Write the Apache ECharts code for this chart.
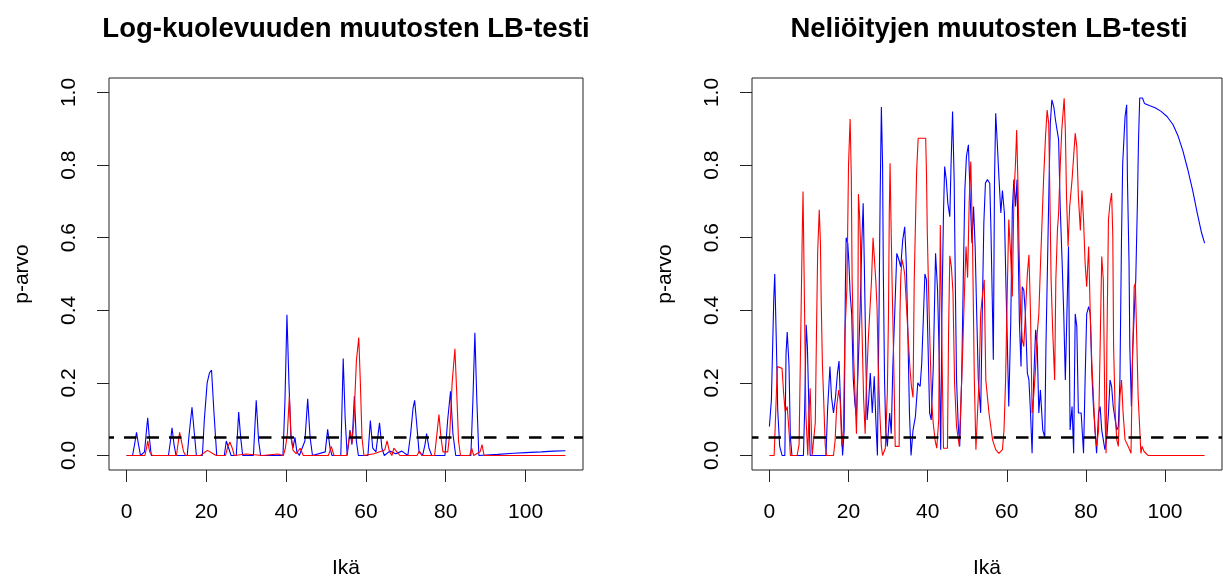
<!DOCTYPE html>
<html><head><meta charset="utf-8">
<script src="https://cdn.jsdelivr.net/npm/echarts@6/dist/echarts.min.js"></script>
<style>html,body{margin:0;padding:0;background:#fff}#c{width:1223px;height:580px}</style>
</head><body><div id="c"></div>
<script>
const xTicks = [0, 20, 40, 60, 80, 100];
const yTicks = [0, 0.2, 0.4, 0.6, 0.8, 1.0];
const titles = ['Log-kuolevuuden muutosten LB-testi', 'Neliöityjen muutosten LB-testi'];
const xName = 'Ikä';
const yName = 'p-arvo';
const threshold = 0.05;

// Left panel, blue
const leftBlueAge = [0,1.5,2.0,2.5,3.0,3.5,4.5,5.0,5.3,5.7,6.2,10.5,11.0,11.4,11.9,12.4,15.2,15.7,16.4,17.0,17.5,19.0,19.5,20.2,20.8,21.3,21.9,22.6,24.5,25.0,25.6,26.2,27.5,28.1,28.6,29.1,31.8,32.5,33.1,33.6,39.2,39.7,40.2,40.7,41.2,41.7,42.2,42.7,43.3,44.7,45.4,46.0,46.6,49.8,50.4,51.0,51.5,53.7,54.3,54.8,55.3,56.0,56.5,57.1,57.6,58.1,60.5,61.1,61.7,62.5,63.4,64.0,64.6,66.0,67.5,69.0,70.5,71.2,71.8,72.2,72.7,73.3,74.2,74.8,75.2,75.8,76.5,79.8,80.5,81.2,81.8,82.5,86.3,86.8,87.3,87.8,88.3,93,97,100,104,107,110];
const leftBlueP   = [0,0,0.03,0.064,0.03,0,0.01,0.07,0.104,0.05,0,0,0.04,0.076,0.03,0,0,0.06,0.133,0.06,0,0,0.1,0.2,0.228,0.235,0.12,0,0,0.04,0.02,0,0,0.12,0.05,0,0,0.152,0.04,0,0,0.15,0.388,0.2,0.05,0.02,0.05,0.01,0,0.04,0.156,0.05,0,0.01,0.072,0.02,0,0,0.267,0.1,0,0.07,0.03,0.163,0.04,0,0,0.096,0.02,0.01,0.09,0.02,0,0.012,0.005,0.012,0,0.06,0.13,0.152,0.09,0.01,0,0.03,0.06,0.02,0,0,0.1,0.177,0.06,0,0,0.15,0.338,0.15,0,0.003,0.006,0.008,0.01,0.012,0.013];

// Left panel, red
const leftRedAge = [0,4.6,5.0,5.3,5.8,6.5,12.5,13.0,13.3,13.8,14.3,14.8,18.5,19.5,20.3,21.5,22.5,24.8,25.4,25.9,26.5,27.0,30,34,38,39.3,39.8,40.3,40.8,41.2,41.7,42.5,43.5,44.3,50.6,51.3,52.0,55.2,55.7,56.1,56.5,57.0,57.6,58.2,58.6,59.0,59.5,62,64.7,65.3,65.9,66.5,67.0,67.4,67.9,68.5,72.8,73.4,74.0,77.2,77.7,78.3,78.8,79.3,80.5,81.0,81.6,82.3,82.8,83.2,83.7,86.0,86.5,87.0,88.6,89.1,89.6,110];
const leftRedP   = [0,0,0.02,0.04,0.01,0,0,0.04,0.064,0.064,0.01,0,0,0.008,0.014,0.006,0,0,0.025,0.037,0.02,0,0.004,0,0.004,0,0.02,0.06,0.163,0.06,0.015,0.005,0.02,0,0,0.025,0,0,0.04,0.065,0.035,0.1,0.26,0.325,0.2,0.05,0,0.005,0.015,0.04,0.01,0,0.02,0.025,0.008,0,0,0.012,0,0,0.05,0.113,0.05,0.01,0.01,0.06,0.2,0.294,0.16,0.04,0,0,0.02,0,0.01,0.03,0,0];

// Right panel, blue
const rightBlueAge = [0,0.5,1.1,1.35,1.8,2.1,2.6,3.2,3.9,4.2,4.5,4.95,5.3,5.7,8.6,8.9,9.3,9.6,10.0,10.3,14.3,14.7,15.3,15.7,16.2,16.7,17.2,17.6,18.0,18.5,18.9,19.2,19.4,19.8,20.1,20.4,20.8,21.2,21.6,22.0,22.4,22.9,23.4,23.7,24.0,24.4,24.7,25.1,25.5,26.0,26.5,26.9,27.3,27.7,28.0,28.3,28.6,28.8,29.1,29.4,29.8,30.4,30.8,31.2,31.7,32.2,32.7,33.2,33.7,34.2,34.6,35.0,35.4,35.8,36.3,36.9,37.5,38.1,38.5,38.9,39.3,39.7,40.1,40.5,40.9,41.4,42.0,42.5,42.9,43.3,43.6,44.0,44.3,44.7,45.1,45.6,45.9,46.3,46.7,47.0,47.3,47.7,48.1,48.6,49.0,49.4,49.8,50.3,50.8,51.2,51.6,52.0,52.4,52.8,53.4,53.8,54.2,54.6,55.1,55.7,56.0,56.4,56.6,56.9,57.2,57.6,58.0,58.5,58.9,59.4,59.8,60.1,60.5,61.0,61.4,61.8,62.2,62.6,62.9,63.2,63.6,63.9,64.3,64.7,65.2,65.6,66.0,66.4,66.8,67.3,67.7,68.1,68.5,69.1,69.6,69.9,70.3,70.7,71.0,71.4,71.9,72.3,72.7,73.1,73.5,74.0,74.4,74.8,75.2,75.6,76.0,76.5,76.9,77.3,77.7,78.1,78.8,79.4,79.8,80.2,80.7,81.1,81.5,81.9,82.3,82.7,83.2,83.6,84.0,84.8,85.3,85.7,86.1,86.5,86.9,87.4,87.8,88.2,88.6,89.0,89.3,89.6,89.9,90.3,90.5,90.9,91.1,91.5,91.8,92.2,92.6,93.0,93.3,93.6,94.3,94.8,96.0,97.5,99.0,100.5,102.0,103.3,104.5,105.7,107.0,108.2,109.2,110];
const rightBlueP   = [0.08,0.153,0.43,0.5,0.29,0.126,0.025,0,0,0.28,0.34,0.25,0.05,0,0,0.12,0.36,0.3,0.12,0,0,0.126,0.245,0.16,0.117,0.16,0.227,0.26,0.135,0,0.07,0.465,0.6,0.585,0.53,0.447,0.39,0.21,0.144,0.107,0.236,0.39,0.6,0.695,0.52,0.254,0.098,0.153,0.227,0.117,0.218,0.098,0,0.39,0.72,0.96,0.805,0.5,0.21,0.07,0.025,0.117,0.06,0.245,0.4,0.557,0.54,0.52,0.594,0.63,0.53,0.337,0.117,0,0.07,0.107,0.2,0.19,0.254,0.374,0.5,0.484,0.3,0.117,0.098,0.236,0.557,0.456,0.28,0.016,0.39,0.668,0.796,0.76,0.695,0.658,0.796,0.948,0.76,0.465,0.21,0.09,0.025,0.21,0.484,0.73,0.824,0.856,0.695,0.585,0.686,0.576,0.39,0.21,0.117,0.39,0.64,0.75,0.76,0.75,0.62,0.39,0.264,0.76,0.943,0.86,0.77,0.668,0.73,0.668,0.465,0.328,0.135,0.365,0.677,0.76,0.686,0.76,0.557,0.365,0.245,0.465,0.456,0.39,0.227,0.208,0.117,0.006,0.208,0.346,0.3,0.117,0.18,0.07,0.05,0.3,0.53,0.76,0.915,0.98,0.96,0.925,0.897,0.87,0.686,0.53,0.39,0.208,0.39,0.576,0.07,0.135,0.006,0.39,0.355,0.117,0.117,0.006,0.208,0.39,0.41,0.39,0.227,0.135,0.07,0.006,0.117,0.135,0.07,0.016,0.05,0.117,0.208,0.19,0.135,0.098,0.07,0.08,0.208,0.6,0.805,0.87,0.934,0.966,0.76,0.53,0.3,0.135,0.28,0.39,0.484,0.686,0.87,0.985,0.985,0.97,0.964,0.958,0.948,0.934,0.912,0.88,0.84,0.79,0.73,0.665,0.615,0.585];

// Right panel, red
const rightRedAge = [0,1.2,1.6,2.0,3.2,3.6,4.0,4.5,5.0,5.3,7.0,7.5,8.0,8.3,8.5,8.9,9.2,9.7,10.0,10.3,10.8,11.2,11.6,11.9,12.2,12.6,12.9,13.1,13.4,13.7,14.1,14.4,16.2,16.6,17.0,17.5,17.9,18.3,18.7,19.1,19.6,20.0,20.4,20.7,20.9,21.3,21.7,22.0,22.3,22.5,22.8,23.0,23.2,23.5,23.8,24.2,24.5,25.0,25.8,26.2,26.5,26.9,27.2,27.5,27.9,28.3,28.6,29.3,29.8,30.1,30.3,30.5,30.7,31.0,31.4,31.8,32.8,33.0,33.2,33.5,33.9,34.2,34.6,35.1,35.5,35.9,36.3,36.6,36.9,37.2,37.6,39.5,39.7,39.9,40.2,40.6,41.0,41.4,41.9,42.3,42.8,43.2,43.6,44.0,45.0,45.3,45.6,46.0,46.4,46.8,47.3,48.0,48.8,49.3,49.7,50.1,50.5,50.9,51.3,51.8,52.2,52.6,53.0,53.4,53.9,54.3,54.7,55.5,56.4,57.2,58.0,58.9,59.3,59.7,60.1,60.5,61.0,61.4,61.8,62.2,62.5,62.8,63.1,63.5,63.9,64.3,64.7,65.2,65.6,66.0,66.4,66.8,67.3,67.7,68.1,68.5,68.9,69.3,69.8,70.2,70.6,70.9,71.2,71.6,72.1,72.4,72.8,73.1,73.5,73.9,74.5,74.8,75.1,75.5,75.9,76.5,77.3,77.7,78.1,78.6,79.0,79.4,79.8,80.2,80.7,81.1,81.5,81.9,82.3,82.7,83.2,83.6,84.0,84.4,84.8,85.1,85.3,85.7,86.1,86.5,86.8,87.0,87.4,87.8,88.2,88.6,89.0,89.4,89.9,90.7,91.4,91.8,92.2,92.5,92.9,93.2,93.5,93.9,94.2,94.7,95.7,110];
const rightRedP   = [0,0,0.12,0.245,0.24,0.17,0.12,0.135,0.06,0,0,0.03,0.39,0.61,0.727,0.39,0.12,0,0.12,0.185,0,0,0.09,0.34,0.56,0.677,0.585,0.42,0.25,0.16,0.03,0,0,0.04,0.135,0.18,0.15,0.025,0.07,0.34,0.465,0.8,0.927,0.77,0.49,0.27,0.15,0.06,0.23,0.72,0.66,0.59,0.44,0.3,0.16,0.06,0.19,0.32,0.48,0.6,0.6,0.48,0.41,0.25,0.12,0.025,0,0.02,0.17,0.39,0.667,0.805,0.667,0.48,0.27,0.025,0.025,0.39,0.49,0.54,0.52,0.5,0.5,0.32,0.245,0.19,0.16,0.48,0.63,0.78,0.874,0.874,0.78,0.62,0.47,0.3,0.15,0.09,0.04,0.02,0.1,0.635,0.3,0.02,0.02,0.35,0.55,0.52,0.45,0.2,0.08,0.025,0.27,0.45,0.576,0.49,0.7,0.81,0.62,0.208,0.016,0.117,0.208,0.39,0.447,0.484,0.208,0.117,0.043,0.016,0.006,0.016,0.07,0.208,0.438,0.65,0.548,0.438,0.713,0.805,0.897,0.76,0.576,0.39,0.32,0.3,0.39,0.5,0.553,0.39,0.117,0.163,0.245,0.337,0.39,0.52,0.64,0.76,0.88,0.952,0.915,0.713,0.484,0.346,0.208,0.484,0.62,0.668,0.796,0.897,0.984,0.897,0.713,0.576,0.686,0.76,0.888,0.851,0.713,0.62,0.73,0.65,0.53,0.465,0.576,0.39,0.254,0.163,0.07,0.025,0.07,0.3,0.548,0.484,0.117,0.006,0.3,0.65,0.695,0.723,0.603,0.3,0.117,0.043,0.025,0.163,0.208,0.117,0.043,0.025,0.006,0.28,0.465,0.475,0.3,0.163,0.098,0.006,0.025,0.011,0,0];

const FONT = '"Liberation Sans", Arial, sans-serif';
const AX = '#222';
function pairs(a, b) { return a.map((x, i) => [x, b[i]]); }

function xAxisFor(i) {
  return {
    type: 'value', gridIndex: i, min: -4.4, max: 114.4, position: 'bottom',
    name: xName, nameLocation: 'middle', nameGap: 88,
    nameTextStyle: { fontSize: 21, color: '#000', fontFamily: FONT },
    axisLine: { show: false, onZero: false },
    axisTick: { show: true, inside: false, customValues: xTicks, length: 12, lineStyle: { color: AX, width: 1 } },
    axisLabel: { customValues: xTicks, margin: 32, fontSize: 21, color: '#000', fontFamily: FONT },
    splitLine: { show: false }
  };
}
function yAxisFor(i) {
  return {
    type: 'value', gridIndex: i, min: -0.04, max: 1.04, position: 'left',
    name: yName, nameLocation: 'middle', nameRotate: 90, nameGap: 76,
    nameTextStyle: { fontSize: 21, color: '#000', fontFamily: FONT },
    axisLine: { show: false, onZero: false },
    axisTick: { show: true, inside: false, customValues: yTicks, length: 12, lineStyle: { color: AX, width: 1 } },
    axisLabel: { customValues: yTicks, rotate: 90, margin: 29, fontSize: 21, color: '#000', fontFamily: FONT,
      formatter: v => v.toFixed(1) },
    splitLine: { show: false }
  };
}
function lineSeries(i, a, b, color, z) {
  return { type: 'line', xAxisIndex: i, yAxisIndex: i, data: pairs(a, b), showSymbol: false, symbol: 'none',
    lineStyle: { color: color, width: 1.1 }, itemStyle: { color: color }, z: z, silent: true };
}
function dashSeries(i, offset) {
  return { type: 'line', xAxisIndex: i, yAxisIndex: i, data: [], z: 5, silent: true,
    markLine: { silent: true, symbol: ['none', 'none'], label: { show: false },
      lineStyle: { color: '#000', width: 2.6, type: [12.5, 10], dashOffset: offset },
      data: [{ yAxis: threshold }] } };
}

const gridBase = { top: 78, height: 392, show: true, borderColor: AX, borderWidth: 1,
  backgroundColor: 'transparent', containLabel: false, outerBoundsMode: 'none' };

const chart = echarts.init(document.getElementById('c'), null, { renderer: 'canvas' });
chart.setOption({
  animation: false,
  backgroundColor: '#fff',
  textStyle: { fontFamily: FONT },
  title: [
    { text: titles[0], left: 346, top: 15, textAlign: 'center', padding: 0,
      textStyle: { fontSize: 27.5, fontWeight: 'bold', color: '#000', fontFamily: FONT } },
    { text: titles[1], left: 989, top: 15, textAlign: 'center', padding: 0,
      textStyle: { fontSize: 27.5, fontWeight: 'bold', color: '#000', fontFamily: FONT } }
  ],
  grid: [
    Object.assign({ left: 109, width: 474 }, gridBase),
    Object.assign({ left: 752, width: 470 }, gridBase)
  ],
  xAxis: [xAxisFor(0), xAxisFor(1)],
  yAxis: [yAxisFor(0), yAxisFor(1)],
  series: [
    lineSeries(0, leftBlueAge, leftBlueP, '#0000FF', 2),
    lineSeries(0, leftRedAge, leftRedP, '#FF0000', 3),
    dashSeries(0, 7.5),
    lineSeries(1, rightBlueAge, rightBlueP, '#0000FF', 2),
    lineSeries(1, rightRedAge, rightRedP, '#FF0000', 3),
    dashSeries(1, 6)
  ]
});
</script>
</body></html>
